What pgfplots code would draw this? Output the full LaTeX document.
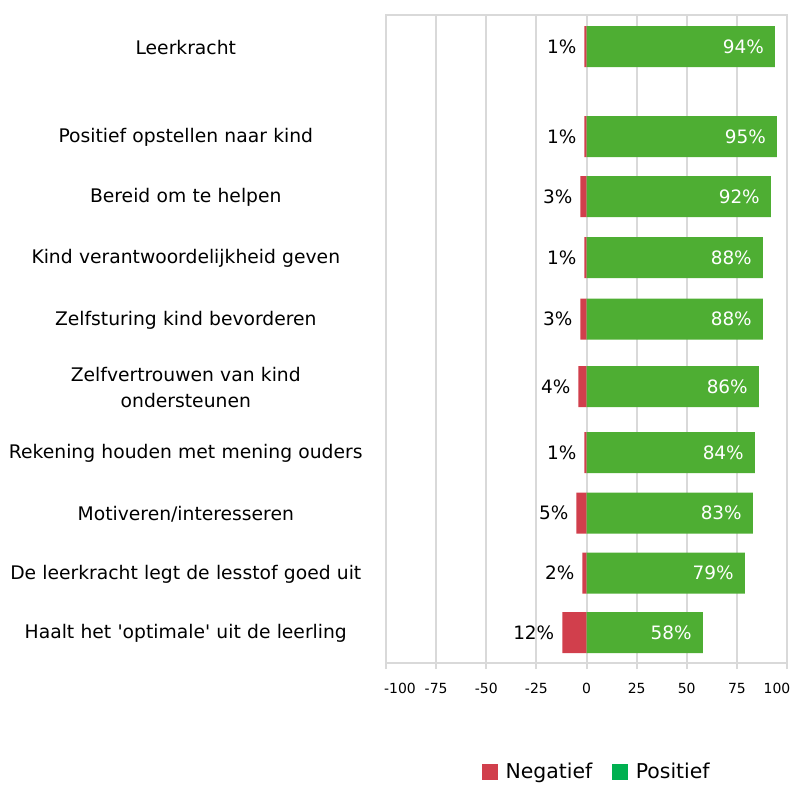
\documentclass[border=0pt]{standalone}
\usepackage{pgfplots}
\pgfplotsset{compat=1.18}
\usepackage{pgfplotstable}
\usepackage{fontspec}
\setmainfont{DejaVu Sans}
\definecolor{negred}{HTML}{D13F4C}
\definecolor{posgreen}{HTML}{4EAE33}
\definecolor{leggreen}{HTML}{00B050}
\definecolor{gridgray}{HTML}{D9D9D9}
\pgfplotstableread{
y     neg  negl pos
46.5  -1   1    94
136.5 -1   1    95
196.5 -3   3    92
257.5 -1   1    88
319   -3   3    88
386.5 -4   4    86
452.5 -1   1    84
513   -5   5    83
573   -2   2    79
632.5 -12  12   58
}\data
\begin{document}
\begin{tikzpicture}
\path[use as bounding box] (0,0) rectangle (790bp,-786bp);
\begin{axis}[
  at={(386bp,-663bp)}, anchor=south west,
  scale only axis, width=401bp, height=648bp,
  xmin=-100, xmax=100, ymin=15, ymax=663, y dir=reverse,
  xbar, bar width=41, bar shift=0pt,
  /pgf/number format/assume math mode=true,
  axis line style={draw=gridgray, line width=2bp},
  xtick={-100,-75,-50,-25,0,25,50,75,100},
  xticklabels={},
  xmajorgrids, grid style={draw=gridgray, line width=2bp},
  tick align=outside, xtick pos=bottom,
  x tick style={draw=gridgray, line width=2bp},
  major tick length=6bp,
  extra x ticks={-93,-75,-50,-25,0,25,50,75,95},
  extra x tick labels={-100,-75,-50,-25,0,25,50,75,100},
  extra x tick style={major tick length=0pt, grid=none,
    tick label style={font=\fontsize{14}{17}\selectfont, yshift=-17bp}},
  ytick={46.5,136.5,196.5,257.5,319,386.5,452.5,513,573,632.5},
  yticklabels={Leerkracht, Positief opstellen naar kind, Bereid om te helpen,
    Kind verantwoordelijkheid geven, Zelfsturing kind bevorderen,
    {Zelfvertrouwen van kind\\ondersteunen}, Rekening houden met mening ouders,
    Motiveren/interesseren, De leerkracht legt de lesstof goed uit,
    Haalt het \textquotesingle optimale\textquotesingle{} uit de leerling},
  y tick style={draw=none},
  yticklabel style={font=\fontsize{18.8}{26}\selectfont, text width=380bp,
    align=center, anchor=east, inner sep=0pt, xshift=-4bp, yshift=-1bp},
  legend style={draw=none, at={(0.526,-0.168)}, anchor=center,
    font=\fontsize{20.5}{24}\selectfont, legend columns=2,
    /tikz/every odd column/.append style={column sep=6bp},
    /tikz/every even column/.append style={column sep=18bp}},
]
\addplot[forget plot, fill=negred, draw=none,
  point meta=explicit,
  nodes near coords={\pgfmathprintnumber{\pgfplotspointmeta}\%},
  nodes near coords style={anchor=east, inner sep=0pt, xshift=-8bp,
    text=black, font=\fontsize{18.5}{22}\selectfont}]
  table[x=neg, y=y, meta=negl]{\data};
\addplot[forget plot, fill=posgreen, draw=none,
  point meta=explicit,
  nodes near coords={\pgfmathprintnumber{\pgfplotspointmeta}\%},
  nodes near coords style={anchor=east, inner sep=0pt, xshift=-11bp,
    text=white, font=\fontsize{18.5}{22}\selectfont}]
  table[x=pos, y=y, meta=pos]{\data};
\addlegendimage{legend image code/.code={\fill[negred] (0bp,-7.5bp) rectangle (15bp,7.5bp);}}
\addlegendentry{Negatief}
\addlegendimage{legend image code/.code={\fill[leggreen] (0bp,-7.5bp) rectangle (15bp,7.5bp);}}
\addlegendentry{Positief}
\end{axis}
\end{tikzpicture}
\end{document}
